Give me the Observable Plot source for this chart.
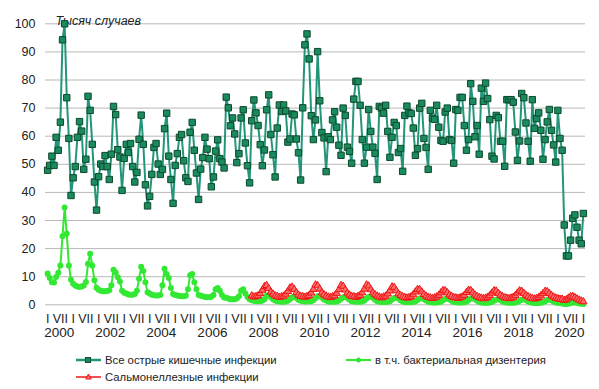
<!DOCTYPE html>
<html><head><meta charset="utf-8">
<script src="https://cdn.jsdelivr.net/npm/d3@7"></script>
<script src="https://cdn.jsdelivr.net/npm/@observablehq/plot@0.6"></script>
<style>
body{margin:0;background:#fff;font-family:"Liberation Sans",Arial,sans-serif;}
#wrap{position:relative;width:599px;height:389px;overflow:hidden;}
.lg{position:absolute;height:14px;line-height:14px;font-size:11.3px;color:#222;display:flex;align-items:center;white-space:nowrap;}
.lg svg{display:block;margin-right:4px;}
</style></head><body><div id="wrap"></div>
<script>
const seriesNames = ["Все острые кишечные инфекции", "в т.ч. бактериальная дизентерия", "Сальмонеллезные инфекции"];
const yTitle = "Тысяч случаев";
const firstYear = 2000;
const monthLabels = ["I", "VII"];
const yearLabels = [2000, 2002, 2004, 2006, 2008, 2010, 2012, 2014, 2016, 2018, 2020];
const yTicks = [0, 10, 20, 30, 40, 50, 60, 70, 80, 90, 100];

// monthly, Jan 2000 .. Jan 2021, thousand cases
const total = [
  47.9, 49.6, 52.9, 49.6, 59.6, 55, 65, 94.3, 100, 73.7, 59.2, 38.9,
  45.2, 49.2, 59.6, 65.2, 61.8, 48.2, 51.8, 74.2, 69.2, 57.1, 43.7, 33.7,
  45.6, 50.1, 49.2, 53.1, 49.2, 44.6, 53.6, 70.6, 67.7, 55.2, 52.6, 40.7,
  52.1, 57.1, 54.2, 57.4, 49.2, 43.7, 47.1, 58.9, 67.5, 57.1, 42.7, 35.2,
  38.6, 46.4, 56, 57.4, 50.1, 46.4, 48.2, 62.7, 68.2, 52.9, 44.6, 36.1,
  49.6, 53.8, 59.6, 60.6, 51.3, 45.2, 43.9, 61.4, 64.9, 55, 46.9, 37.5,
  48.3, 52.4, 59.6, 55.4, 52, 42, 45.5, 54.7, 58.7, 52, 50.8, 48.7,
  73.9, 70.1, 63.7, 66.5, 60.8, 50.6, 53.8, 66.5, 69.4, 57.6, 49.5, 43.4,
  65.5, 72.9, 68.3, 63.8, 57, 49.5, 55.1, 69.4, 74.7, 60.6, 53.4, 45.5,
  62.9, 71.1, 68.8, 71.1, 69, 57.9, 59, 67.9, 67.6, 59, 54.1, 44.4,
  70.1, 92.5, 96.4, 87.5, 67.3, 58.8, 65.8, 90.1, 72.6, 61.3, 59.4, 47.4,
  59.8, 58.8, 65.8, 68.7, 63.2, 56.8, 53.2, 70, 67.4, 56.1, 54.6, 50.4,
  73.2, 79.5, 79.5, 71, 58.8, 50.4, 56.1, 69.5, 61.7, 56.1, 53.9, 44.6,
  70.6, 70, 68.2, 71, 61.7, 52.5, 59.6, 64.9, 63.8, 54.2, 55.6, 47.5,
  67.4, 70.7, 68.3, 68.1, 62.9, 53.2, 55.6, 70, 71.7, 59.2, 56, 48.2,
  69.2, 66.4, 66, 71, 63.2, 58.5, 58.2, 68.6, 70, 58.8, 58.5, 50.4,
  69.5, 69.2, 73.8, 73.8, 63.8, 55, 58.8, 78.7, 72.4, 59.8, 63.8, 53.6,
  77.1, 72.4, 78.9, 73.4, 65.9, 52.9, 51.9, 67.4, 66.6, 58.2, 58.2, 49.3,
  73, 73, 73, 72.1, 61.5, 51.4, 58.3, 75.2, 73.7, 64.7, 58.2, 51.1,
  73, 62.8, 66.3, 68.3, 62.1, 51.8, 58.8, 65.1, 69.5, 62.1, 56.9, 50.8,
  69.2, 59.2, 55, 28.4, 17.4, 17.4, 23, 30.8, 32, 27.6, 23, 21.7,
  32.5
];

const dysentery = [
  11.1, 9.5, 8, 7.9, 9.9, 11.4, 14, 24.4, 34.6, 25.4, 14, 8.9,
  7.5, 6.9, 6.5, 6.3, 6.5, 6.9, 8.1, 14.6, 18.2, 14, 8.7, 6.1,
  5.4, 5, 4.8, 4.8, 4.9, 5.2, 7, 12.5, 11.5, 9.8, 8.3, 5,
  4.3, 4, 3.7, 3.6, 3.6, 3.8, 5, 9.3, 13.5, 12, 8, 4.5,
  4, 3.6, 3.4, 3.3, 3.3, 3.5, 7, 12.8, 11, 9.5, 6, 3.8,
  3.5, 3.3, 3.1, 3, 3, 3.2, 5.5, 10.5, 11, 8, 5.5, 3.5,
  3.2, 3, 2.8, 2.7, 2.7, 2.9, 3.5, 5.5, 6, 5, 3.5, 2.6,
  2.5, 2.2, 2, 2, 2, 2.2, 3, 5, 5.5, 4, 2.8, 2,
  1.6, 1.4, 1.3, 1.3, 1.3, 1.5, 2, 3.2, 3.5, 2.8, 2, 1.5,
  1.3, 1.2, 1.1, 1.1, 1.2, 1.4, 2, 2.7, 2.9, 2.4, 1.8, 1.4,
  1.3, 1.2, 1.2, 1.2, 1.3, 1.6, 2.3, 3, 3.2, 2.6, 1.9, 1.5,
  1.2, 1.1, 1.1, 1.1, 1.2, 1.5, 2.1, 2.7, 2.9, 2.4, 1.8, 1.3,
  1.2, 1.1, 1.1, 1.1, 1.2, 1.5, 2.2, 2.8, 3, 2.5, 1.8, 1.3,
  1.1, 1, 1, 1, 1.1, 1.3, 1.9, 2.4, 2.6, 2.2, 1.6, 1.2,
  1, 0.9, 0.9, 0.9, 1, 1.2, 1.7, 2.2, 2.4, 2, 1.5, 1.1,
  0.9, 0.8, 0.8, 0.8, 0.9, 1.1, 1.6, 2.1, 2.3, 1.9, 1.4, 1,
  0.9, 0.8, 0.8, 0.8, 0.9, 1.1, 1.7, 2.2, 2.4, 2, 1.4, 1,
  0.8, 0.7, 0.7, 0.7, 0.8, 1, 1.4, 1.8, 2, 1.7, 1.2, 0.9,
  0.8, 0.7, 0.7, 0.7, 0.8, 1, 1.4, 1.8, 2, 1.7, 1.2, 0.9,
  0.7, 0.6, 0.6, 0.6, 0.7, 0.9, 1.3, 1.7, 1.9, 1.6, 1.1, 0.8,
  0.7, 0.6, 0.5, 0.3, 0.3, 0.4, 0.6, 0.8, 0.8, 0.7, 0.5, 0.4,
  0.3
];

// monthly, Jan 2008 .. Jan 2021
const salmonellaFirstYear = 2008;
const salmonella = [
  3.2, 2.8, 3, 3.2, 4, 5.2, 6.5, 6.9, 5.8, 4.5, 3.8, 3.2,
  3, 2.7, 2.9, 3.1, 3.8, 4.8, 6, 6.3, 5.5, 4.3, 3.5, 3,
  2.9, 2.7, 3, 3.3, 4.2, 5.5, 7.1, 6.8, 5.6, 4.3, 3.6, 3.1,
  2.8, 2.6, 2.9, 3.2, 4.1, 5.4, 6.9, 6.6, 5.3, 4.2, 3.5, 3,
  2.9, 2.7, 3, 3.4, 4.3, 5.6, 7.1, 6.7, 5.4, 4.3, 3.6, 3.1,
  2.8, 2.5, 2.8, 3.1, 3.9, 5, 6.4, 6.2, 5, 3.9, 3.3, 2.9,
  2.6, 2.4, 2.6, 2.9, 3.6, 4.6, 5.5, 5.4, 4.6, 3.7, 3.1, 2.7,
  2.5, 2.3, 2.5, 2.8, 3.4, 4.3, 5.1, 5, 4.3, 3.5, 3, 2.6,
  2.5, 2.3, 2.5, 2.8, 3.4, 4.4, 5.2, 5.1, 4.3, 3.5, 3, 2.6,
  2.4, 2.2, 2.4, 2.7, 3.3, 4.2, 5, 4.9, 4.1, 3.4, 2.9, 2.5,
  2.4, 2.2, 2.4, 2.7, 3.3, 4.2, 5, 4.8, 4.1, 3.4, 2.9, 2.5,
  2.3, 2.1, 2.3, 2.6, 3.2, 4, 4.8, 4.7, 4, 3.3, 2.8, 2.4,
  2.2, 2, 2, 1.6, 1.8, 2.4, 2.9, 3, 2.6, 2.1, 1.7, 1.4,
  1.1
];

const colors = {total: "#23967a", totalFill: "#1b8a5e", totalEdge: "#0b4a2c", dys: "#33e833", sal: "#ee1515", salFill: "#ff6a6a"};

const totalRows = total.map((v, i) => ({i, v}));
const dysRows = dysentery.map((v, i) => ({i, v}));
const salOffset = (salmonellaFirstYear - firstYear) * 12;
const salRows = salmonella.map((v, i) => ({i: i + salOffset, v}));
const nMonths = total.length;
const halfYearTicks = d3.range(0, nMonths, 6);

const plot = Plot.plot({
  width: 599,
  height: 345,
  marginLeft: 45,
  marginRight: 14,
  marginTop: 23.3,
  marginBottom: 40.7,
  style: {fontFamily: "'Liberation Sans', Arial, sans-serif", fontSize: "12px", color: "#222", background: "#fff", overflow: "visible"},
  x: {domain: [-1, nMonths], axis: null},
  y: {domain: [0, 100], axis: null},
  marks: [
    Plot.gridY(yTicks, {stroke: "#b8b8b8", strokeOpacity: 1, strokeWidth: 1}),
    Plot.axisY(yTicks, {tickSize: 0, tickPadding: 10, fontSize: 12.5, label: null}),
    Plot.axisX(halfYearTicks, {tickSize: 0, tickPadding: 9, fontSize: 12.5, label: null, tickFormat: d => monthLabels[(d / 6) % 2]}),
    Plot.text(yearLabels, {x: d => (d - firstYear) * 12 + 5.5, frameAnchor: "bottom", dy: 32, text: d => String(d), fontSize: 13.5}),
    Plot.text([yTitle], {frameAnchor: "top-left", dx: 10, dy: -8, textAnchor: "start", fontStyle: "italic", fontSize: 12.5}),
    Plot.line(totalRows, {x: "i", y: "v", stroke: colors.total, strokeWidth: 2}),
    Plot.dot(totalRows, {x: "i", y: "v", symbol: "square", r: 3.6, fill: colors.totalFill, stroke: colors.totalEdge, strokeWidth: 1}),
    Plot.line(dysRows, {x: "i", y: "v", stroke: colors.dys, strokeWidth: 2}),
    Plot.dot(dysRows, {x: "i", y: "v", r: 3, fill: colors.dys, stroke: "none"}),
    Plot.line(salRows, {x: "i", y: "v", stroke: colors.sal, strokeWidth: 1.5}),
    Plot.dot(salRows, {x: "i", y: "v", symbol: "triangle", r: 2.7, fill: colors.salFill, stroke: colors.sal, strokeWidth: 1})
  ]
});

const wrap = document.getElementById("wrap");
wrap.appendChild(plot);

function legendItem(name, left, top, kind) {
  const div = document.createElement("div");
  div.className = "lg";
  div.style.left = left + "px";
  div.style.top = top + "px";
  let sym;
  if (kind === 0) sym = `<line x1="0" y1="7" x2="25" y2="7" stroke="${colors.total}" stroke-width="2.5"/><rect x="9.5" y="4.5" width="5" height="5" fill="${colors.totalFill}" stroke="${colors.totalEdge}" stroke-width="1"/>`;
  else if (kind === 1) sym = `<line x1="0" y1="7" x2="25" y2="7" stroke="${colors.dys}" stroke-width="2"/><circle cx="12.5" cy="7" r="2.5" fill="${colors.dys}"/>`;
  else sym = `<line x1="0" y1="7" x2="25" y2="7" stroke="${colors.sal}" stroke-width="1.5"/><path d="M12.5,4 L15.2,9 L9.8,9 Z" fill="${colors.salFill}" stroke="${colors.sal}" stroke-width="1"/>`;
  div.innerHTML = `<svg width="25" height="14">${sym}</svg><span>${name}</span>`;
  wrap.appendChild(div);
}
legendItem(seriesNames[0], 76, 353, 0);
legendItem(seriesNames[1], 346, 353, 1);
legendItem(seriesNames[2], 76, 370, 2);
</script>
</body></html>
